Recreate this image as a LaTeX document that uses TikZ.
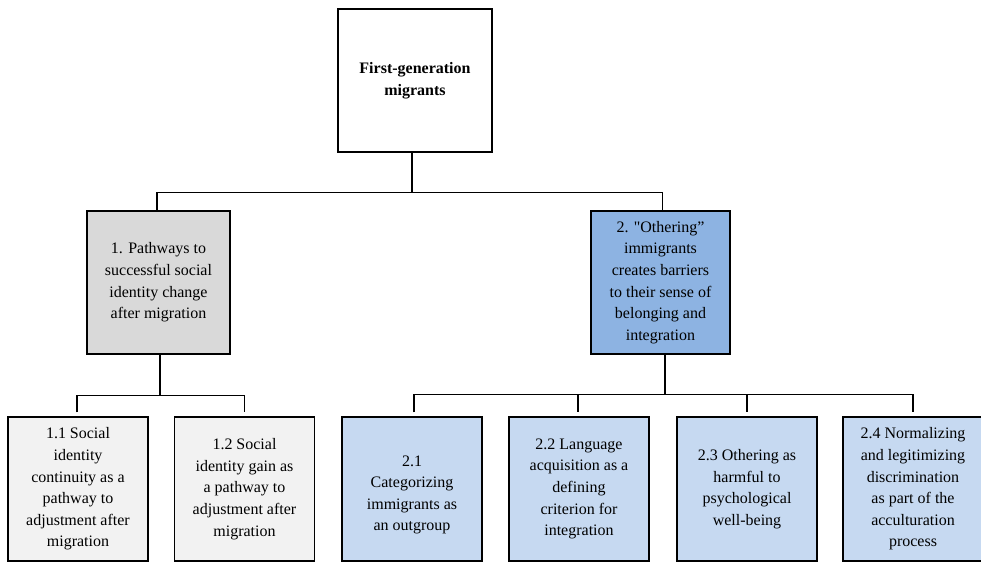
\documentclass[tikz,border=0pt]{standalone}
\usepackage{fontspec}
\setmainfont{Liberation Serif}[Ligatures=TeXOff]
\definecolor{gbox}{HTML}{D9D9D9}
\definecolor{lgbox}{HTML}{F2F2F2}
\definecolor{bbox}{HTML}{8DB3E2}
\definecolor{lbbox}{HTML}{C6D9F1}
\tikzset{
  txt/.style={align=center, inner sep=0pt, font=\fontsize{12}{16.2}\selectfont},
  box/.style={txt, draw, line width=0.9pt},
  leaf/.style={box, minimum width=105pt, minimum height=108pt},
  conn/.style={line width=0.9pt}
}
\begin{document}
\begin{tikzpicture}[x=0.75pt,y=-0.75pt]
\useasboundingbox (0,0) rectangle (981,562);
\node[box, fill=white, minimum width=115.5pt, minimum height=107.25pt, font=\fontsize{12}{16.5}\selectfont\bfseries] (top) at (415,80.5) {First-generation\\migrants};
\node[box, fill=gbox, minimum width=107.25pt, minimum height=107.25pt] (b1) at (158.5,282.5) {1. Pathways to\\successful social\\identity change\\after migration};
\node[box, fill=bbox, minimum width=104.25pt, minimum height=107.25pt] (b2) at (660.5,282.5) {2. "Othering”\\immigrants\\creates barriers\\to their sense of\\belonging and\\integration};
\node[leaf, fill=lgbox] (b11) at (78,489) {1.1 Social\\identity\\continuity as a\\pathway to\\adjustment after\\migration};
\node[leaf, fill=lgbox] (b12) at (244.5,489) {1.2 Social\\identity gain as\\a pathway to\\adjustment after\\migration};
\node[leaf, fill=lbbox] (b21) at (412,489) {};
\node[txt] (b21t) at (412,495) {2.1\\Categorizing\\immigrants as\\an outgroup};
\node[leaf, fill=lbbox] (b22) at (579,489) {2.2 Language\\acquisition as a\\defining\\criterion for\\integration};
\node[leaf, fill=lbbox] (b23) at (747,489) {2.3 Othering as\\harmful to\\psychological\\well-being};
\node[leaf, fill=lbbox] (b24) at (913,489) {2.4 Normalizing\\and legitimizing\\discrimination\\as part of the\\acculturation\\process};
% level 1 connectors
\draw[conn] ([xshift=-2.25pt]top.south) -- ++(0,40) coordinate (bus1);
\draw[conn] ([xshift=-1.1pt]b1.north) |- (bus1) -| ([xshift=1.5pt]b2.north);
% level 2 left
\draw[conn] ([xshift=1.1pt]b1.south) -- ++(0,41) coordinate (bus2);
\draw[conn] ([yshift=3pt,xshift=-0.75pt]b11.north) |- (bus2) -| ([yshift=3pt]b12.north);
% level 2 right
\draw[conn] ([xshift=3.4pt]b2.south) -- ++(0,40) coordinate (bus3);
\draw[conn] ([yshift=3pt,xshift=1.5pt]b21.north) |- (bus3) -| ([yshift=3pt,xshift=-0.75pt]b22.north);
\draw[conn] (bus3) -| ([yshift=3pt]b23.north);
\draw[conn] (bus3) -| ([yshift=3pt]b24.north);
\end{tikzpicture}
\end{document}
